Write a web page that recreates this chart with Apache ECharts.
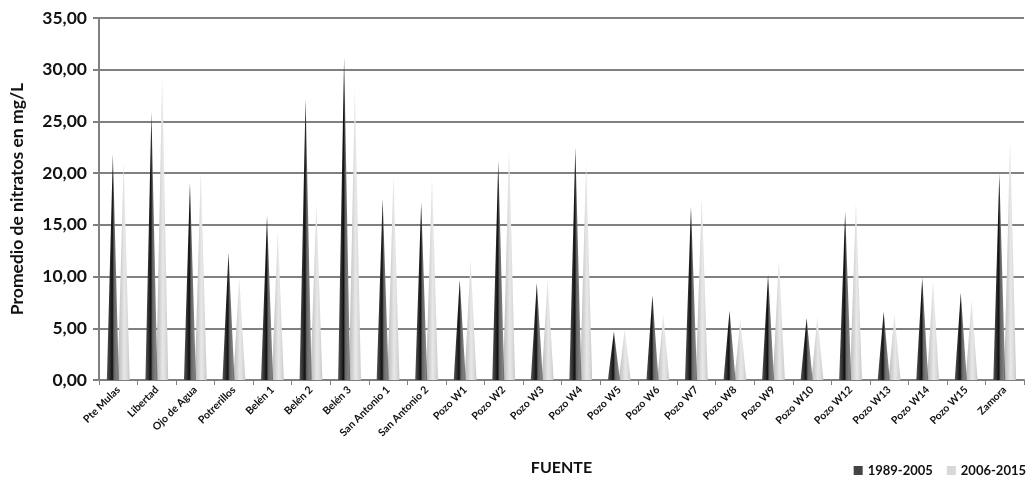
<!DOCTYPE html>
<html>
<head>
<meta charset="utf-8">
<script src="https://cdn.jsdelivr.net/npm/echarts@6/dist/echarts.min.js"></script>
<style>html,body{margin:0;padding:0;background:#fff}#c{width:1033px;height:483px}</style>
</head>
<body>
<div id="c"></div>
<script>
const categories = ['Pte Mulas','Libertad','Ojo de Agua','Potrerillos','Belén 1','Belén 2','Belén 3','San Antonio 1','San Antonio 2','Pozo W1','Pozo W2','Pozo W3','Pozo W4','Pozo W5','Pozo W6','Pozo W7','Pozo W8','Pozo W9','Pozo W10','Pozo W12','Pozo W13','Pozo W14','Pozo W15','Zamora'];
const s1989 = [21.8,25.9,19.1,12.3,15.9,27.2,31.2,17.5,17.2,9.7,21.2,9.4,22.5,4.7,8.2,16.8,6.7,10.2,6.0,16.3,6.6,9.9,8.4,20.0];
const s2006 = [21.1,29.5,20.1,9.9,14.4,17.1,28.1,19.8,19.6,11.6,22.4,9.7,21.1,4.9,6.3,17.7,5.8,11.6,6.1,17.2,6.3,9.6,7.7,23.2];
const seriesNames = ['1989-2005','2006-2015'];
const yTicks = {min:0, max:35, interval:5};

const chart = echarts.init(document.getElementById('c'));
const font = 'Lato, "Open Sans", sans-serif';
const darkGrad = new echarts.graphic.LinearGradient(0,0,1,0,[
  {offset:0,color:'#555'},{offset:0.3,color:'#2a2a2a'},{offset:0.45,color:'#111'},
  {offset:0.6,color:'#666'},{offset:0.85,color:'#808080'},{offset:1,color:'#6a6a6a'}]);
const lightGrad = new echarts.graphic.LinearGradient(0,0,1,0,[
  {offset:0,color:'#b8b8b8'},{offset:0.35,color:'#d6d6d6'},{offset:0.55,color:'#e8e8e8'},
  {offset:0.8,color:'#dadada'},{offset:1,color:'#c6c6c6'}]);

chart.setOption({
  animation:false,
  textStyle:{fontFamily:font},
  grid:{left:91,right:9,top:18,bottom:103},
  legend:{
    right:2, top:459, itemWidth:9, itemHeight:9, itemGap:14, icon:'rect',
    textStyle:{fontFamily:font,fontWeight:'bold',fontSize:13,color:'#111'},
    data:[{name:seriesNames[0],itemStyle:{color:'#444'}},{name:seriesNames[1],itemStyle:{color:'#d8d8d8'}}]
  },
  xAxis:{
    type:'category', data:categories,
    name:'FUENTE', nameLocation:'middle', nameGap:80,
    nameTextStyle:{fontFamily:font,fontWeight:'bold',fontSize:16,color:'#111'},
    axisLine:{lineStyle:{color:'#808080',width:2}},
    axisTick:{show:true,length:5,lineStyle:{color:'#808080'}},
    axisLabel:{rotate:45,interval:0,fontFamily:font,fontWeight:'bold',fontSize:10.5,color:'#111',margin:8}
  },
  yAxis:{
    type:'value', min:yTicks.min, max:yTicks.max, interval:yTicks.interval,
    name:'Promedio de nitratos en mg/L', nameLocation:'middle', nameGap:73,
    nameTextStyle:{fontFamily:font,fontWeight:'bold',fontSize:17.5,color:'#111'},
    axisLine:{show:true,lineStyle:{color:'#808080',width:2}},
    axisTick:{show:true,length:6,lineStyle:{color:'#808080',width:2}},
    splitLine:{lineStyle:{color:'#808080',width:2}},
    axisLabel:{fontFamily:font,fontWeight:'bold',fontSize:17.5,color:'#111',margin:12,
      formatter:v=>v.toFixed(2).replace('.',',')}
  },
  series:[
    {name:seriesNames[0],type:'pictorialBar',symbol:'triangle',barWidth:12,barGap:'-10%',
     z:3,itemStyle:{color:darkGrad},data:s1989},
    {name:seriesNames[1],type:'pictorialBar',symbol:'triangle',barWidth:12,barGap:'-10%',
     z:2,itemStyle:{color:lightGrad},data:s2006}
  ]
});
</script>
</body>
</html>
